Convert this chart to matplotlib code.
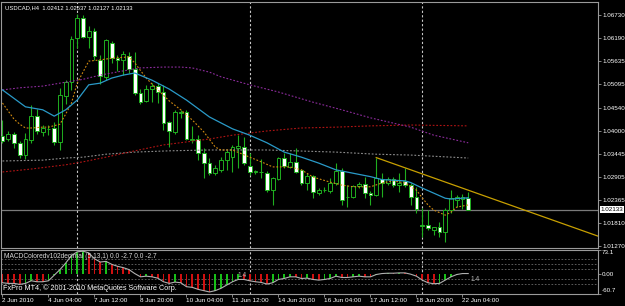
import matplotlib
matplotlib.use("Agg")
import matplotlib.pyplot as plt
import matplotlib.transforms as mtransforms
import numpy as np

plt.rcParams["font.family"] = ["Liberation Sans", "DejaVu Sans"]

symbol = "USDCAD,H4"

# H4 candles, one per bar (oldest first)
opens = [1.0387, 1.0381, 1.0392, 1.0371, 1.0342, 1.0378, 1.0434, 1.0397, 1.0404, 1.0406,
         1.0373, 1.0482, 1.0515, 1.0619, 1.0666, 1.0621, 1.0635, 1.0567, 1.0527, 1.0607,
         1.0571, 1.0567, 1.0576, 1.0545, 1.0489, 1.0470, 1.0498, 1.0505, 1.0491, 1.0420,
         1.0397, 1.0441, 1.0444, 1.0378, 1.0380, 1.0347, 1.0323, 1.0300, 1.0307, 1.0330,
         1.0337, 1.0359, 1.0361, 1.0316, 1.0302, 1.0302, 1.0300, 1.0259, 1.0285, 1.0335,
         1.0314, 1.0326, 1.0307, 1.0276, 1.0293, 1.0252, 1.0259, 1.0257, 1.0276, 1.0304,
         1.0243, 1.0243, 1.0269, 1.0274, 1.0252, 1.0248, 1.0285, 1.0276, 1.0285, 1.0271,
         1.0281, 1.0271, 1.0243, 1.0177, 1.0177, 1.0165, 1.0172, 1.0160, 1.0212, 1.0236,
         1.0238, 1.02412]
highs = [1.0425, 1.0399, 1.0397, 1.0375, 1.0394, 1.0460, 1.0451, 1.0413, 1.0413, 1.0420,
         1.0500, 1.0519, 1.0623, 1.0675, 1.0673, 1.0647, 1.0642, 1.0578, 1.0616, 1.0612,
         1.0578, 1.0588, 1.0586, 1.0586, 1.0498, 1.0508, 1.0512, 1.0512, 1.0508, 1.0423,
         1.0449, 1.0449, 1.0449, 1.0411, 1.0389, 1.0359, 1.0335, 1.0319, 1.0337, 1.0354,
         1.0366, 1.0389, 1.0385, 1.0347, 1.0307, 1.0333, 1.0304, 1.0290, 1.0337, 1.0347,
         1.0347, 1.0359, 1.0309, 1.0300, 1.0295, 1.0264, 1.0267, 1.0288, 1.0323, 1.0311,
         1.0271, 1.0271, 1.0278, 1.0290, 1.0257, 1.0335, 1.0300, 1.0290, 1.0290, 1.0300,
         1.0311, 1.0276, 1.0267, 1.0217, 1.0212, 1.0172, 1.0184, 1.0217, 1.0259, 1.0248,
         1.0250, 1.02537]
lows = [1.0371, 1.0375, 1.0359, 1.0335, 1.0333, 1.0371, 1.0392, 1.0387, 1.0389, 1.0366,
        1.0354, 1.0463, 1.0496, 1.0595, 1.0619, 1.0595, 1.0567, 1.0510, 1.0519, 1.0560,
        1.0541, 1.0531, 1.0536, 1.0484, 1.0463, 1.0467, 1.0467, 1.0465, 1.0401, 1.0361,
        1.0392, 1.0430, 1.0378, 1.0371, 1.0330, 1.0288, 1.0295, 1.0295, 1.0302, 1.0307,
        1.0302, 1.0311, 1.0319, 1.0295, 1.0297, 1.0288, 1.0255, 1.0224, 1.0283, 1.0311,
        1.0311, 1.0300, 1.0271, 1.0259, 1.0241, 1.0248, 1.0255, 1.0252, 1.0271, 1.0224,
        1.0219, 1.0241, 1.0264, 1.0241, 1.0224, 1.0245, 1.0243, 1.0271, 1.0267, 1.0255,
        1.0267, 1.0224, 1.0205, 1.0148, 1.0165, 1.0153, 1.0148, 1.0137, 1.0205, 1.0219,
        1.0214, 1.02127]
closes = [1.0375, 1.0392, 1.0371, 1.0342, 1.0380, 1.0434, 1.0399, 1.0406, 1.0403, 1.0373,
          1.0484, 1.0515, 1.0616, 1.0666, 1.0621, 1.0635, 1.0576, 1.0529, 1.0614, 1.0571,
          1.0567, 1.0581, 1.0545, 1.0489, 1.0467, 1.0498, 1.0505, 1.0491, 1.0418, 1.0399,
          1.0444, 1.0444, 1.0380, 1.0380, 1.0347, 1.0323, 1.0300, 1.0311, 1.0330, 1.0349,
          1.0361, 1.0363, 1.0323, 1.0302, 1.0304, 1.0301, 1.0259, 1.0288, 1.0335, 1.0316,
          1.0326, 1.0302, 1.0276, 1.0293, 1.0255, 1.0259, 1.0260, 1.0276, 1.0304, 1.0236,
          1.0242, 1.0269, 1.0274, 1.0252, 1.0248, 1.0288, 1.0276, 1.0285, 1.0271, 1.0276,
          1.0271, 1.0243, 1.0215, 1.0174, 1.0170, 1.0172, 1.0160, 1.0212, 1.0241, 1.0243,
          1.0243, 1.02133]

# moving averages, read at sample bars
cyan_bars = [0, 4, 7, 9, 11, 13, 15, 17, 19, 21, 23, 26, 29, 32, 36, 40, 43, 46, 49, 52,
             55, 58, 61, 64, 66, 70, 71, 73, 75, 77, 78, 81]
cyan_ma = [1.0496, 1.0456, 1.0449, 1.0434, 1.0449, 1.0472, 1.0508, 1.0512, 1.0524, 1.0531,
           1.0536, 1.0519, 1.0498, 1.0472, 1.0432, 1.0404, 1.0389, 1.0371, 1.0349, 1.0337,
           1.0323, 1.0307, 1.0299, 1.0291, 1.0284, 1.0281, 1.0277, 1.0264, 1.0252, 1.0240,
           1.0238, 1.0241]
orange_bars = [0, 2, 3, 4, 5, 7, 8, 10, 11, 12, 13, 14, 15, 17, 19, 22, 23, 25, 26, 29,
               31, 33, 35, 37, 38, 40, 43, 45, 47, 50, 52, 54, 57, 59, 61, 64, 66, 68, 70,
               72, 73, 74, 75, 77, 78, 79, 81]
orange_ma = [1.0465, 1.0427, 1.0415, 1.0406, 1.0406, 1.0408, 1.0408, 1.0415, 1.0439, 1.0465,
             1.0512, 1.0538, 1.0564, 1.0567, 1.0571, 1.0574, 1.0560, 1.0524, 1.0510, 1.0470,
             1.0449, 1.0425, 1.0397, 1.0361, 1.0354, 1.0354, 1.0337, 1.0326, 1.0314, 1.0314,
             1.0307, 1.0290, 1.0278, 1.0271, 1.0267, 1.0267, 1.0276, 1.0281, 1.0276, 1.0259,
             1.0241, 1.0224, 1.0212, 1.0200, 1.0207, 1.0219, 1.0224]
purple_bars = [0, 3, 7, 10, 14, 17, 21, 24, 28, 31, 33, 36, 38, 43, 48, 54, 59, 64, 71, 75, 81]
purple_ma = [1.0496, 1.0501, 1.0505, 1.0512, 1.0521, 1.0531, 1.0541, 1.0548, 1.0550, 1.0550,
             1.0548, 1.0538, 1.0527, 1.0508, 1.0491, 1.0467, 1.0449, 1.0430, 1.0408, 1.0389,
             1.0371]
red_bars = [0, 5, 11, 14, 18, 23, 28, 32, 36, 40, 46, 52, 58, 64, 71, 81]
red_ma = [1.0302, 1.0309, 1.0319, 1.0326, 1.0337, 1.0352, 1.0366, 1.0373, 1.0380, 1.0389,
          1.0399, 1.0406, 1.0408, 1.0411, 1.0413, 1.0411]
gray_bars = [0, 7, 11, 14, 18, 23, 29, 36, 46, 58, 65, 71, 81]
gray_ma = [1.0328, 1.0330, 1.0335, 1.0337, 1.0344, 1.0349, 1.0352, 1.0354, 1.0354, 1.0349,
           1.0344, 1.0342, 1.0335]

# trendline anchors (ray to the right)
trend_bars = [65, 81]
trend_prices = [1.0336, 1.0259]

separator_bars = [13, 43, 73]

price_ticks = [1.06730, 1.06190, 1.05635, 1.05095, 1.04540, 1.04000, 1.03445, 1.02905,
               1.02365, 1.01810, 1.01270]

time_tick_bars = [0, 8, 16, 24, 32, 40, 48, 56, 64, 72, 80]
time_tick_labels = ["2 Jun 2010", "4 Jun 04:00", "7 Jun 12:00", "8 Jun 20:00", "10 Jun 04:00",
                    "11 Jun 12:00", "14 Jun 20:00", "16 Jun 04:00", "17 Jun 12:00",
                    "18 Jun 20:00", "22 Jun 04:00"]

macd = [-28, -30, -30, -33, -30, -22, -25, -25, -22, -5,
        12, 32, 55, 66, 68, 63, 45, 35, 37, 28,
        22, 18, 12, 0, -10, -8, -10, -14, -25, -30,
        -26, -28, -40, -42, -48, -52, -56, -52, -45, -35,
        -25, -18, -18, -22, -25, -27, -32, -28, -18, -15,
        -10, -10, -15, -14, -18, -20, -18, -15, -8, -12,
        -12, -10, -8, -10, -10, -3, 0, 1, 1, 2,
        2, -2, -8, -20, -28, -31, -30, -20, -10, -3,
        0, 0]
macd_levels = [43, 28, 13, -16, -31]
macd_ticks = [73.1, 0.0, -60.7]
macd_value_tags = [(40.8, -4.6), (81.4, -17.0)]

W, H = 625, 306
GREEN = "#1fae1f"
FRAME = "#9a9a9a"


def px_rect(x0, y0, x1, y1):
    return [x0 / W, 1 - y1 / H, (x1 - x0) / W, (y1 - y0) / H]


fig = plt.figure(figsize=(W / 100, H / 100), dpi=100, facecolor="black")
ax = fig.add_axes(px_rect(1.5, 2, 598, 247.5), facecolor="black")
mx = fig.add_axes(px_rect(1.5, 249.5, 598, 293.5), facecolor="black", sharex=ax)

x = np.arange(len(closes))
o, h, l, c = (np.array(v) for v in (opens, highs, lows, closes))
up = c > o

# candles
ax.vlines(x, l, h, color=GREEN, lw=0.8, zorder=2)
body_lo = np.minimum(o, c)
body_h = np.maximum(np.abs(c - o), 0.00003)
ax.bar(x, body_h, bottom=body_lo, width=0.62, color=np.where(up, "black", "white"),
       edgecolor=GREEN, linewidth=0.7, zorder=3)

# indicators
dot = (0, (1.6, 1.6))
ax.plot(gray_bars, gray_ma, color="#8c8c8c", lw=0.8, ls=dot, zorder=4)
ax.plot(red_bars, red_ma, color="#b01414", lw=0.8, ls=dot, zorder=4)
ax.plot(purple_bars, purple_ma, color="#8c2c9c", lw=0.8, ls=dot, zorder=4)
ax.plot(orange_bars, orange_ma, color="#d08a10", lw=0.8, ls=dot, zorder=4)
ax.plot(cyan_bars, cyan_ma, color="#2a9ac8", lw=0.9, zorder=4)

xmin, xmax = -0.17, 103.57
slope = (trend_prices[1] - trend_prices[0]) / (trend_bars[1] - trend_bars[0])
ax.plot([trend_bars[0], xmax], [trend_prices[0], trend_prices[0] + slope * (xmax - trend_bars[0])],
        color="#c8a000", lw=0.9, zorder=4)

ax.axhline(closes[-1], color="#7a7a7a", lw=0.9, zorder=1)
for b in separator_bars:
    ax.axvline(b, color="#c8c8c8", lw=0.8, ls=(0, (2, 2)), zorder=1)
    mx.axvline(b, color="#c8c8c8", lw=0.8, ls=(0, (2, 2)), zorder=1)

ax.set_xlim(xmin, xmax)
ax.set_ylim(1.01235, 1.07038)
ax.yaxis.tick_right()
ax.set_yticks(price_ticks, [f"{p:.5f}" for p in price_ticks])
ax.tick_params(axis="y", colors=FRAME, labelcolor="white", labelsize=4.5, length=2, width=0.6, pad=1)
ax.tick_params(axis="x", bottom=False, labelbottom=False)

trans = mtransforms.blended_transform_factory(ax.transAxes, ax.transData)
ax.text(1.004, closes[-1], f"{closes[-1]:.5f}", transform=trans, ha="left", va="center",
        fontsize=4.5, color="black", bbox=dict(facecolor="white", edgecolor="none", pad=0.6))

fig.text(5 / W, 1 - 7.5 / H,
         f"{symbol}  {opens[-1]:.5f} {highs[-1]:.5f} {lows[-1]:.5f} {closes[-1]:.5f}",
         color="white", fontsize=4.2, va="center", ha="left")

# MACD subwindow
m = np.array(macd, dtype=float)
rising = np.concatenate([[False], np.diff(m) > 0])
mx.bar(x, m, width=0.28, color=np.where(rising, "#18c018", "#d01010"), zorder=2)
mx.plot(x, m, color="#b0b0b0", lw=0.8, zorder=3)
for lv in macd_levels:
    mx.axhline(lv, color="#6a6a6a", lw=0.6, ls=(0, (2, 2)), zorder=1)
mx.set_ylim(-60.7, 73.1)
mx.yaxis.tick_right()
mx.set_yticks(macd_ticks, ["73.1", "0.00", "-60.7"])
mx.tick_params(axis="y", colors=FRAME, labelcolor="white", labelsize=4.5, length=2, width=0.6, pad=1)
ylabels = mx.get_yticklabels()
ylabels[0].set_verticalalignment("top")
ylabels[-1].set_verticalalignment("bottom")
mx.set_xticks(time_tick_bars, time_tick_labels)
mx.tick_params(axis="x", colors=FRAME, labelcolor="white", labelsize=4.6, length=2, width=0.6, pad=1)
for lbl in mx.get_xticklabels():
    lbl.set_horizontalalignment("left")

mx.text(0.004, 0.85, "MACDColoredv102decimal (5,13,1) 0.0 -2.7 0.0 -2.7", transform=mx.transAxes,
        color="#d8d8d8", fontsize=4.8, va="center", zorder=5)
mx.text(0.002, 0.13, "FxPro MT4, \u00a9 2001-2010 MetaQuotes Software Corp.", transform=mx.transAxes,
        color="white", fontsize=5.2, va="center", zorder=5)
for bx, by in macd_value_tags:
    mx.text(bx, by, "1.4", color="#b4b4b4", fontsize=4.8, va="center", zorder=5)

for a in (ax, mx):
    for s in a.spines.values():
        s.set_color(FRAME)
        s.set_linewidth(0.8)

fig.savefig("out.png", dpi=100, facecolor="black")
